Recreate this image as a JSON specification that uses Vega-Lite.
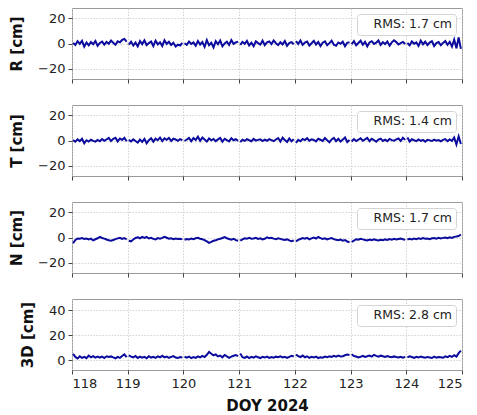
{
"$schema": "https://vega.github.io/schema/vega-lite/v6.json",
"padding": {"left": 9, "top": 7, "right": 10, "bottom": 5},
"bounds": "flush",
"spacing": 26,
"resolve": {"scale": {"color": "independent"}, "legend": {"color": "independent"}},
"config": {
 "font": "DejaVu Sans",
 "view": {"stroke": "#9a9a9a", "strokeWidth": 1},
 "axis": {"domain": false, "grid": true, "gridColor": "#c8c8c8", "gridDash": [1.5, 1.5], "gridWidth": 0.8, "tickColor": "#444444", "tickSize": 4, "labelFontSize": 13, "labelColor": "#222222", "labelPadding": 3, "titleFontSize": 15, "titleFontWeight": "bold", "titleColor": "#111111"},
 "legend": {"orient": "top-right", "offset": 6, "fillColor": "white", "strokeColor": "#d4d4d4", "cornerRadius": 3, "padding": 4, "labelFontSize": 12.5, "labelColor": "#222222", "labelOffset": 0, "symbolSize": 0, "symbolOpacity": 0, "symbolStrokeWidth": 0}
},
"data": {"values": [
{"t":118.02,"g":118,"R":0.5,"T":0.3,"N":-4.5,"D":5.0},
{"t":118.06,"g":118,"R":-1.2,"T":-1.0,"N":-2.0,"D":2.5},
{"t":118.10,"g":118,"R":1.8,"T":0.9,"N":-0.8,"D":1.2},
{"t":118.14,"g":118,"R":-0.3,"T":-0.5,"N":-1.0,"D":3.0},
{"t":118.18,"g":118,"R":2.1,"T":1.4,"N":-0.5,"D":1.8},
{"t":118.22,"g":118,"R":-2.4,"T":-2.2,"N":-1.2,"D":2.6},
{"t":118.26,"g":118,"R":0.8,"T":0.2,"N":-0.8,"D":1.5},
{"t":118.30,"g":118,"R":-1.5,"T":-0.8,"N":-1.5,"D":3.6},
{"t":118.34,"g":118,"R":1.1,"T":0.6,"N":-0.9,"D":2.2},
{"t":118.38,"g":118,"R":-0.6,"T":-0.3,"N":-2.3,"D":3.1},
{"t":118.42,"g":118,"R":2.0,"T":-0.9,"N":-1.4,"D":1.9},
{"t":118.46,"g":118,"R":-1.8,"T":0.4,"N":-0.6,"D":2.8},
{"t":118.50,"g":118,"R":0.4,"T":-0.6,"N":0.5,"D":2.0},
{"t":118.54,"g":118,"R":1.5,"T":1.2,"N":-0.4,"D":2.7},
{"t":118.58,"g":118,"R":-0.9,"T":-0.2,"N":-0.9,"D":1.6},
{"t":118.62,"g":118,"R":1.2,"T":0.8,"N":-1.6,"D":3.0},
{"t":118.66,"g":118,"R":-0.2,"T":2.0,"N":-2.2,"D":2.4},
{"t":118.70,"g":118,"R":2.3,"T":-0.4,"N":-2.6,"D":2.9},
{"t":118.74,"g":118,"R":0.6,"T":1.3,"N":-2.0,"D":2.1},
{"t":118.78,"g":118,"R":-1.0,"T":2.1,"N":-1.3,"D":1.4},
{"t":118.82,"g":118,"R":1.7,"T":-0.7,"N":-0.7,"D":2.6},
{"t":118.86,"g":118,"R":0.9,"T":1.6,"N":-0.2,"D":1.8},
{"t":118.90,"g":118,"R":2.8,"T":0.5,"N":-1.1,"D":3.2},
{"t":118.94,"g":118,"R":3.6,"T":2.2,"N":-0.5,"D":4.6},
{"t":118.98,"g":118,"R":1.5,"T":-0.6,"N":-1.4,"D":2.3},
{"t":119.02,"g":119,"R":-0.8,"T":0.5,"N":-2.5,"D":3.8},
{"t":119.06,"g":119,"R":1.4,"T":-0.8,"N":-3.0,"D":2.7},
{"t":119.10,"g":119,"R":-1.6,"T":0.9,"N":-1.6,"D":2.2},
{"t":119.14,"g":119,"R":0.7,"T":-0.4,"N":-0.4,"D":3.3},
{"t":119.18,"g":119,"R":-2.2,"T":-1.6,"N":0.2,"D":1.6},
{"t":119.22,"g":119,"R":1.9,"T":0.7,"N":-0.6,"D":2.8},
{"t":119.26,"g":119,"R":-0.5,"T":-1.1,"N":0.5,"D":1.9},
{"t":119.30,"g":119,"R":2.4,"T":1.3,"N":-0.3,"D":2.5},
{"t":119.34,"g":119,"R":-1.3,"T":-2.2,"N":0.4,"D":1.4},
{"t":119.38,"g":119,"R":0.3,"T":0.3,"N":-0.8,"D":3.1},
{"t":119.42,"g":119,"R":1.6,"T":1.8,"N":-0.2,"D":2.0},
{"t":119.46,"g":119,"R":-2.0,"T":-0.9,"N":-1.1,"D":2.6},
{"t":119.50,"g":119,"R":2.2,"T":1.5,"N":-1.5,"D":1.7},
{"t":119.54,"g":119,"R":-0.7,"T":0.2,"N":-0.5,"D":2.9},
{"t":119.58,"g":119,"R":1.0,"T":2.3,"N":-0.9,"D":2.2},
{"t":119.62,"g":119,"R":-1.9,"T":-0.5,"N":-0.3,"D":3.4},
{"t":119.66,"g":119,"R":2.5,"T":1.7,"N":0.6,"D":2.1},
{"t":119.70,"g":119,"R":-0.4,"T":0.6,"N":-0.2,"D":2.7},
{"t":119.74,"g":119,"R":1.3,"T":2.0,"N":-1.0,"D":1.8},
{"t":119.78,"g":119,"R":-1.1,"T":-0.3,"N":-0.6,"D":2.5},
{"t":119.82,"g":119,"R":0.6,"T":1.4,"N":-1.4,"D":3.2},
{"t":119.86,"g":119,"R":-2.3,"T":0.8,"N":-0.8,"D":2.0},
{"t":119.90,"g":119,"R":-0.9,"T":-0.2,"N":-1.2,"D":1.6},
{"t":119.94,"g":119,"R":-1.6,"T":1.1,"N":-1.0,"D":2.4},
{"t":119.98,"g":119,"R":0.4,"T":0.3,"N":-1.5,"D":2.1},
{"t":120.02,"g":120,"R":0.2,"T":-0.4,"N":-1.8,"D":2.6},
{"t":120.06,"g":120,"R":-1.0,"T":0.8,"N":-1.2,"D":1.9},
{"t":120.10,"g":120,"R":1.5,"T":2.1,"N":-1.5,"D":2.8},
{"t":120.14,"g":120,"R":-0.4,"T":-0.6,"N":-0.8,"D":1.5},
{"t":120.18,"g":120,"R":0.9,"T":1.9,"N":-1.3,"D":2.3},
{"t":120.22,"g":120,"R":-1.7,"T":0.4,"N":-0.6,"D":1.7},
{"t":120.26,"g":120,"R":2.0,"T":3.0,"N":-0.2,"D":2.9},
{"t":120.30,"g":120,"R":-0.8,"T":-0.2,"N":-1.0,"D":2.1},
{"t":120.34,"g":120,"R":1.2,"T":2.3,"N":-1.4,"D":3.3},
{"t":120.38,"g":120,"R":-2.6,"T":0.7,"N":-2.0,"D":2.4},
{"t":120.42,"g":120,"R":2.7,"T":-0.8,"N":-3.1,"D":4.2},
{"t":120.46,"g":120,"R":-1.4,"T":1.6,"N":-4.2,"D":6.5},
{"t":120.50,"g":120,"R":0.5,"T":0.1,"N":-3.5,"D":5.0},
{"t":120.54,"g":120,"R":-3.1,"T":1.2,"N":-2.6,"D":3.8},
{"t":120.58,"g":120,"R":1.8,"T":-0.5,"N":-2.2,"D":4.5},
{"t":120.62,"g":120,"R":-0.6,"T":0.9,"N":-1.5,"D":2.9},
{"t":120.66,"g":120,"R":2.3,"T":2.0,"N":-1.0,"D":3.6},
{"t":120.70,"g":120,"R":-2.2,"T":-1.0,"N":-0.4,"D":2.2},
{"t":120.74,"g":120,"R":0.1,"T":1.4,"N":0.3,"D":4.1},
{"t":120.78,"g":120,"R":1.4,"T":0.3,"N":-0.6,"D":3.0},
{"t":120.82,"g":120,"R":-1.2,"T":-0.7,"N":-1.2,"D":1.8},
{"t":120.86,"g":120,"R":2.6,"T":1.8,"N":-1.8,"D":2.7},
{"t":120.90,"g":120,"R":-0.3,"T":0.2,"N":-1.0,"D":3.4},
{"t":120.94,"g":120,"R":0.8,"T":1.0,"N":-2.1,"D":4.0},
{"t":120.98,"g":120,"R":1.5,"T":-0.3,"N":-2.6,"D":3.1},
{"t":121.02,"g":121,"R":-1.1,"T":-1.2,"N":-2.5,"D":5.2},
{"t":121.06,"g":121,"R":1.3,"T":0.6,"N":-1.5,"D":2.3},
{"t":121.10,"g":121,"R":-0.2,"T":-0.3,"N":-0.6,"D":1.7},
{"t":121.14,"g":121,"R":2.0,"T":1.1,"N":-0.9,"D":2.8},
{"t":121.18,"g":121,"R":-1.5,"T":0.2,"N":-0.3,"D":1.5},
{"t":121.22,"g":121,"R":0.6,"T":-0.6,"N":-1.0,"D":2.5},
{"t":121.26,"g":121,"R":-2.1,"T":1.3,"N":-0.8,"D":1.9},
{"t":121.30,"g":121,"R":1.7,"T":-0.1,"N":-0.2,"D":2.9},
{"t":121.34,"g":121,"R":0.3,"T":0.5,"N":-1.1,"D":2.2},
{"t":121.38,"g":121,"R":-0.9,"T":0.9,"N":-0.6,"D":1.6},
{"t":121.42,"g":121,"R":2.2,"T":-0.4,"N":-1.5,"D":2.6},
{"t":121.46,"g":121,"R":-1.3,"T":0.7,"N":-1.0,"D":2.0},
{"t":121.50,"g":121,"R":0.9,"T":-0.2,"N":0.1,"D":2.8},
{"t":121.54,"g":121,"R":1.6,"T":1.0,"N":-0.5,"D":1.7},
{"t":121.58,"g":121,"R":-0.5,"T":0.3,"N":-0.2,"D":2.4},
{"t":121.62,"g":121,"R":2.4,"T":-0.5,"N":-0.9,"D":1.9},
{"t":121.66,"g":121,"R":0.2,"T":0.8,"N":-1.3,"D":2.7},
{"t":121.70,"g":121,"R":-1.2,"T":1.9,"N":-0.7,"D":2.3},
{"t":121.74,"g":121,"R":1.0,"T":-0.9,"N":-1.1,"D":3.0},
{"t":121.78,"g":121,"R":-0.7,"T":2.2,"N":-1.6,"D":2.1},
{"t":121.82,"g":121,"R":1.9,"T":0.4,"N":-2.0,"D":2.6},
{"t":121.86,"g":121,"R":-1.8,"T":-1.1,"N":-1.4,"D":1.8},
{"t":121.90,"g":121,"R":0.4,"T":1.6,"N":-2.3,"D":2.5},
{"t":121.94,"g":121,"R":1.1,"T":-0.6,"N":-3.0,"D":3.4},
{"t":121.98,"g":121,"R":-0.6,"T":0.9,"N":-2.4,"D":2.9},
{"t":122.02,"g":122,"R":1.8,"T":-1.9,"N":-3.1,"D":4.3},
{"t":122.06,"g":122,"R":-0.4,"T":0.5,"N":-1.9,"D":3.1},
{"t":122.10,"g":122,"R":2.3,"T":-0.6,"N":-1.2,"D":2.4},
{"t":122.14,"g":122,"R":-1.1,"T":1.2,"N":-0.5,"D":3.6},
{"t":122.18,"g":122,"R":0.7,"T":0.3,"N":-1.0,"D":2.2},
{"t":122.22,"g":122,"R":1.5,"T":1.8,"N":-0.3,"D":2.9},
{"t":122.26,"g":122,"R":-1.6,"T":-0.2,"N":-1.4,"D":1.8},
{"t":122.30,"g":122,"R":0.2,"T":0.9,"N":-0.7,"D":2.6},
{"t":122.34,"g":122,"R":2.1,"T":0.4,"N":-0.1,"D":2.1},
{"t":122.38,"g":122,"R":-0.8,"T":-0.7,"N":-0.8,"D":2.7},
{"t":122.42,"g":122,"R":1.2,"T":1.4,"N":0.4,"D":1.6},
{"t":122.46,"g":122,"R":-2.0,"T":0.6,"N":-0.5,"D":2.3},
{"t":122.50,"g":122,"R":0.6,"T":-0.3,"N":-1.2,"D":1.9},
{"t":122.54,"g":122,"R":1.7,"T":1.9,"N":-0.6,"D":2.8},
{"t":122.58,"g":122,"R":-1.3,"T":0.2,"N":-1.5,"D":2.2},
{"t":122.62,"g":122,"R":0.3,"T":-1.4,"N":-0.9,"D":3.0},
{"t":122.66,"g":122,"R":2.2,"T":0.8,"N":-0.4,"D":2.5},
{"t":122.70,"g":122,"R":-0.9,"T":2.1,"N":-1.3,"D":3.3},
{"t":122.74,"g":122,"R":-1.8,"T":-0.5,"N":-1.8,"D":2.7},
{"t":122.78,"g":122,"R":0.8,"T":1.3,"N":-2.2,"D":3.5},
{"t":122.82,"g":122,"R":-0.2,"T":-0.9,"N":-1.6,"D":2.9},
{"t":122.86,"g":122,"R":1.4,"T":0.7,"N":-2.5,"D":3.1},
{"t":122.90,"g":122,"R":-2.1,"T":2.4,"N":-2.0,"D":3.8},
{"t":122.94,"g":122,"R":0.5,"T":-1.2,"N":-3.2,"D":4.5},
{"t":122.98,"g":122,"R":1.0,"T":0.4,"N":-3.8,"D":4.1},
{"t":123.02,"g":123,"R":-0.6,"T":-0.8,"N":-3.4,"D":4.6},
{"t":123.06,"g":123,"R":1.9,"T":1.1,"N":-2.5,"D":3.2},
{"t":123.10,"g":123,"R":-1.4,"T":-0.4,"N":-1.4,"D":2.8},
{"t":123.14,"g":123,"R":0.4,"T":0.6,"N":-1.8,"D":2.1},
{"t":123.18,"g":123,"R":2.2,"T":1.7,"N":-1.0,"D":2.6},
{"t":123.22,"g":123,"R":-0.9,"T":-0.2,"N":-1.5,"D":3.4},
{"t":123.26,"g":123,"R":1.3,"T":0.9,"N":-1.9,"D":2.5},
{"t":123.30,"g":123,"R":-2.2,"T":2.0,"N":-2.3,"D":3.0},
{"t":123.34,"g":123,"R":0.8,"T":-0.6,"N":-1.6,"D":3.6},
{"t":123.38,"g":123,"R":1.8,"T":1.3,"N":-2.1,"D":2.8},
{"t":123.42,"g":123,"R":-0.3,"T":0.4,"N":-1.4,"D":4.2},
{"t":123.46,"g":123,"R":0.6,"T":-1.0,"N":-2.0,"D":3.3},
{"t":123.50,"g":123,"R":2.4,"T":0.8,"N":-2.4,"D":2.7},
{"t":123.54,"g":123,"R":-1.1,"T":1.5,"N":-1.8,"D":3.5},
{"t":123.58,"g":123,"R":1.0,"T":-0.3,"N":-2.2,"D":3.0},
{"t":123.62,"g":123,"R":-0.5,"T":0.7,"N":-1.5,"D":2.4},
{"t":123.66,"g":123,"R":1.6,"T":-0.5,"N":-1.9,"D":3.1},
{"t":123.70,"g":123,"R":-1.7,"T":1.2,"N":-1.3,"D":2.6},
{"t":123.74,"g":123,"R":0.9,"T":0.3,"N":-1.7,"D":2.2},
{"t":123.78,"g":123,"R":2.5,"T":-0.2,"N":-1.1,"D":2.9},
{"t":123.82,"g":123,"R":1.1,"T":0.9,"N":-1.6,"D":2.4},
{"t":123.86,"g":123,"R":-0.8,"T":1.6,"N":-1.2,"D":2.0},
{"t":123.90,"g":123,"R":0.3,"T":-0.4,"N":-0.9,"D":2.6},
{"t":123.94,"g":123,"R":1.2,"T":2.1,"N":-1.4,"D":1.9},
{"t":123.98,"g":123,"R":-0.4,"T":0.5,"N":-1.8,"D":2.5},
{"t":124.02,"g":124,"R":0.4,"T":2.3,"N":-1.6,"D":2.2},
{"t":124.06,"g":124,"R":-1.5,"T":-0.8,"N":-1.1,"D":3.0},
{"t":124.10,"g":124,"R":1.6,"T":1.0,"N":-1.5,"D":2.4},
{"t":124.14,"g":124,"R":-0.2,"T":0.2,"N":-0.9,"D":1.7},
{"t":124.18,"g":124,"R":0.9,"T":-0.5,"N":-1.3,"D":2.6},
{"t":124.22,"g":124,"R":-1.9,"T":0.8,"N":-0.7,"D":2.0},
{"t":124.26,"g":124,"R":2.3,"T":-0.3,"N":-1.2,"D":2.8},
{"t":124.30,"g":124,"R":-0.6,"T":0.4,"N":-0.5,"D":2.3},
{"t":124.34,"g":124,"R":1.4,"T":-0.9,"N":-1.0,"D":1.8},
{"t":124.38,"g":124,"R":-1.2,"T":0.6,"N":-0.8,"D":2.5},
{"t":124.42,"g":124,"R":0.7,"T":0.1,"N":-1.3,"D":2.1},
{"t":124.46,"g":124,"R":1.8,"T":-0.4,"N":-0.6,"D":1.6},
{"t":124.50,"g":124,"R":-2.0,"T":0.7,"N":-0.4,"D":2.7},
{"t":124.54,"g":124,"R":0.3,"T":-0.2,"N":-0.9,"D":1.9},
{"t":124.58,"g":124,"R":1.1,"T":0.3,"N":-0.2,"D":2.4},
{"t":124.62,"g":124,"R":-1.4,"T":-0.6,"N":-0.7,"D":2.2},
{"t":124.66,"g":124,"R":0.5,"T":0.5,"N":-0.3,"D":1.8},
{"t":124.70,"g":124,"R":2.0,"T":1.1,"N":-0.1,"D":2.9},
{"t":124.74,"g":124,"R":-1.0,"T":-0.5,"N":-0.6,"D":2.3},
{"t":124.78,"g":124,"R":1.3,"T":0.8,"N":0.2,"D":3.4},
{"t":124.82,"g":124,"R":-2.4,"T":-0.3,"N":-0.3,"D":2.6},
{"t":124.86,"g":124,"R":3.1,"T":2.4,"N":0.5,"D":3.9},
{"t":124.90,"g":124,"R":-3.8,"T":-3.1,"N":0.8,"D":2.8},
{"t":124.94,"g":124,"R":4.8,"T":3.3,"N":1.2,"D":5.5},
{"t":124.98,"g":124,"R":-4.2,"T":-2.7,"N":2.4,"D":7.5}
]},
"vconcat": [
 {"width": 390, "height": 71,
  "encoding": {
   "x": {"field": "t", "type": "quantitative", "scale": {"domain": [118, 125], "nice": false}, "axis": {"values": [118, 119, 120, 121, 122, 123, 124, 125], "labels": false, "title": null}},
   "y": {"field": "R", "type": "quantitative", "scale": {"domain": [-28, 28], "nice": false}, "axis": {"values": [-20, 0, 20], "title": "R [cm]", "titlePadding": 13}}
  },
  "layer": [
   {"mark": {"type": "line", "color": "#d2d2d2", "strokeWidth": 1}},
   {"mark": {"type": "line", "strokeWidth": 2}, "encoding": {"detail": {"field": "g"}, "color": {"datum": "RMS: 1.7 cm", "scale": {"range": ["#0b0b9e"]}, "legend": {"title": null}}}}
  ]},
 {"width": 390, "height": 71,
  "encoding": {
   "x": {"field": "t", "type": "quantitative", "scale": {"domain": [118, 125], "nice": false}, "axis": {"values": [118, 119, 120, 121, 122, 123, 124, 125], "labels": false, "title": null}},
   "y": {"field": "T", "type": "quantitative", "scale": {"domain": [-28, 28], "nice": false}, "axis": {"values": [-20, 0, 20], "title": "T [cm]", "titlePadding": 13}}
  },
  "layer": [
   {"mark": {"type": "line", "color": "#d2d2d2", "strokeWidth": 1}},
   {"mark": {"type": "line", "strokeWidth": 2}, "encoding": {"detail": {"field": "g"}, "color": {"datum": "RMS: 1.4 cm", "scale": {"range": ["#0b0b9e"]}, "legend": {"title": null}}}}
  ]},
 {"width": 390, "height": 71,
  "encoding": {
   "x": {"field": "t", "type": "quantitative", "scale": {"domain": [118, 125], "nice": false}, "axis": {"values": [118, 119, 120, 121, 122, 123, 124, 125], "labels": false, "title": null}},
   "y": {"field": "N", "type": "quantitative", "scale": {"domain": [-28, 28], "nice": false}, "axis": {"values": [-20, 0, 20], "title": "N [cm]", "titlePadding": 13}}
  },
  "layer": [
   {"mark": {"type": "line", "color": "#d2d2d2", "strokeWidth": 1}},
   {"mark": {"type": "line", "strokeWidth": 2}, "encoding": {"detail": {"field": "g"}, "color": {"datum": "RMS: 1.7 cm", "scale": {"range": ["#0b0b9e"]}, "legend": {"title": null}}}}
  ]},
 {"width": 390, "height": 71,
  "encoding": {
   "x": {"field": "t", "type": "quantitative", "scale": {"domain": [118, 125], "nice": false}, "axis": {"values": [118, 119, 120, 121, 122, 123, 124, 125], "format": "d", "title": "DOY 2024", "titlePadding": 8}},
   "y": {"field": "D", "type": "quantitative", "scale": {"domain": [-8, 49], "nice": false}, "axis": {"values": [0, 20, 40], "title": "3D [cm]", "titlePadding": 13}}
  },
  "layer": [
   {"mark": {"type": "line", "color": "#d2d2d2", "strokeWidth": 1}},
   {"mark": {"type": "line", "strokeWidth": 2}, "encoding": {"detail": {"field": "g"}, "color": {"datum": "RMS: 2.8 cm", "scale": {"range": ["#0b0b9e"]}, "legend": {"title": null}}}}
  ]}
]
}
